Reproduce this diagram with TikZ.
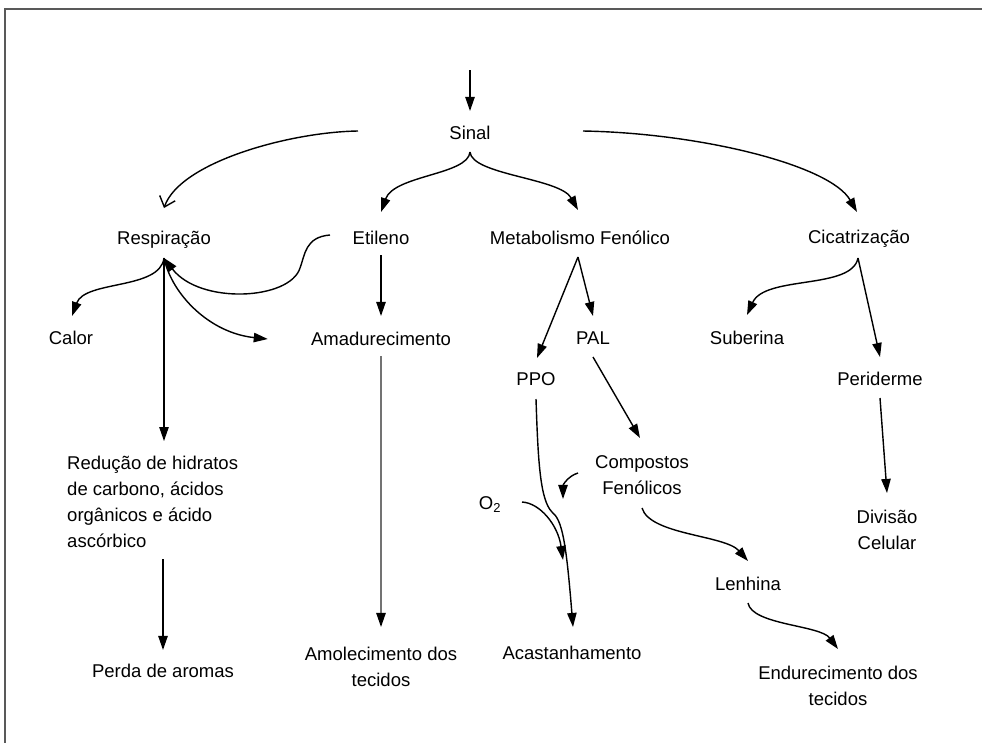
\documentclass[tikz,border=0pt]{standalone}
\usepackage{fontspec}
\setmainfont{Liberation Sans}
\usepackage{tikz}
\usetikzlibrary{arrows.meta,positioning,calc}

\begin{document}
\begin{tikzpicture}[
    x=0.03cm, y=-0.03cm,
    lbl/.style={inner sep=0pt, font=\fontsize{15.8}{22}\selectfont,
                text height=13pt, text depth=1.7pt},
    lbl2/.style={inner sep=0pt, align=center, font=\fontsize{15.8}{22}\selectfont},
    arr/.style={-{Triangle[length=12pt,width=8pt]}, line width=1.2pt},
    barb/.style={-{Straight Barb[length=8pt,width=14pt]}, line width=1.2pt},
    greyarr/.style={-{Triangle[length=12pt,width=8pt,color=black]}, line width=1.2pt, black!55},
  ]
  \useasboundingbox (0,0) rectangle (982,742);
  \draw[black!65, line width=1.5pt] (983,9) -- (5,9) -- (5,743);

  \node[lbl] (sinal) at (470,133) {Sinal};
  \node[lbl] (resp) at (164,238) {Respiração};
  \node[lbl] (etil) at (381,238) {Etileno};
  \node[lbl] (meta) at (580,238) {Metabolismo Fenólico};
  \node[lbl] (cicat) at (859,237) {Cicatrização};
  \node[lbl] (calor) at (71,338) {Calor};
  \node[lbl] (amad) at (381,339) {Amadurecimento};
  \node[lbl] (pal) at (593,338) {PAL};
  \node[lbl] (suber) at (747,338) {Suberina};
  \node[lbl] (ppo) at (536,379) {PPO};
  \node[lbl] (perid) at (880,379) {Periderme};
  \node[lbl2, align=left, anchor=west] (reduc) at (67,502) {Redução de hidratos\\de carbono, ácidos\\orgânicos e ácido\\ascórbico};
  \node[lbl2] (comp) at (642,475) {Compostos\\Fenólicos};
  \node[lbl] (oxig) at (490,503) {O\textsubscript{2}};
  \node[lbl2] (divis) at (887,530) {Divisão\\Celular};
  \node[lbl] (lenh) at (748,584) {Lenhina};
  \node[lbl] (perda) at (163,671) {Perda de aromas};
  \node[lbl2] (amol) at (381,667) {Amolecimento dos\\tecidos};
  \node[lbl] (acast) at (572,653) {Acastanhamento};
  \node[lbl2] (endur) at (838,686) {Endurecimento dos\\tecidos};

  \coordinate (entra) at (470,70);
  \coordinate (shub) at ($(sinal)+(0,19)$);
  \coordinate (rhub) at ($(resp)+(0,20)$);
  \coordinate (mhub) at ($(meta)+(-2,19)$);
  \coordinate (chub) at ($(cicat)+(-1,21)$);
  \coordinate (seta) at ($(amad.west)+(-43,0)$);
  \coordinate (fen) at (563,499);
  \coordinate (oxi) at (563,560);

  \draw[arr] (entra) -- ($(sinal)+(0,-22)$);
  \draw[barb] ($(sinal)+(-112,-2)$) .. controls (290,132) and (180,162) .. ($(resp)+(0,-30)$);
  \draw[arr] (shub) .. controls (468,175) and (394,175) .. ($(etil)+(0,-26)$);
  \draw[arr] (shub) .. controls (472,175) and (560,178) .. ($(meta)+(-2,-28)$);
  \draw[arr] ($(sinal)+(113,-2)$) .. controls (700,133) and (830,165) .. ($(cicat)+(-2,-25)$);

  \draw[arr] ($(etil)+(-51,-3)$) .. controls (305,237) and (305,255) .. (300,268)
    .. controls (290,300) and (200,305) .. (rhub);
  \draw[arr] (rhub) .. controls (160,290) and (85,280) .. ($(calor)+(1,-22)$);
  \draw[arr, shorten >=13pt] (rhub) -- (rhub |- reduc.north);
  \draw[arr] (rhub) .. controls (172,295) and (210,333) .. (seta);
  \draw[arr, shorten <=10pt] (perda |- reduc.south) -- ($(perda)+(0,-21)$);

  \draw[arr] ($(etil)+(0,17)$) -- ($(amad)+(0,-23)$);
  \draw[greyarr] ($(amad)+(0,17)$) -- ($(amol)+(0,-40)$);

  \draw[arr] (mhub) -- ($(ppo)+(1,-21)$);
  \draw[arr] (mhub) -- ($(pal)+(0,-22)$);
  \draw[arr] ($(pal)+(0,19)$) -- ($(comp)+(-2,-37)$);
  \draw[arr] ($(ppo)+(0,20)$) .. controls (538,460) and (540,500) .. (552,512)
    .. controls (562,520) and (566,540) .. ($(acast)+(1,-26)$);
  \draw[arr] ($(oxig)+(32,-1)$) .. controls (540,503) and (558,525) .. (oxi);
  \draw[arr] ($(comp)+(-64,-2)$) .. controls (568,476) and (563,485) .. (fen);
  \draw[arr] ($(comp)+(0,33)$) .. controls (650,535) and (725,535) .. ($(lenh)+(0,-23)$);
  \draw[arr] ($(lenh)+(0,19)$) .. controls (752,625) and (820,625) .. ($(endur)+(0,-37)$);

  \draw[arr] (chub) .. controls (852,290) and (765,275) .. ($(suber)+(0,-23)$);
  \draw[arr] (chub) -- ($(perid)+(0,-22)$);
  \draw[arr] ($(perid)+(0,19)$) -- ($(divis)+(0,-37)$);
\end{tikzpicture}
\end{document}
